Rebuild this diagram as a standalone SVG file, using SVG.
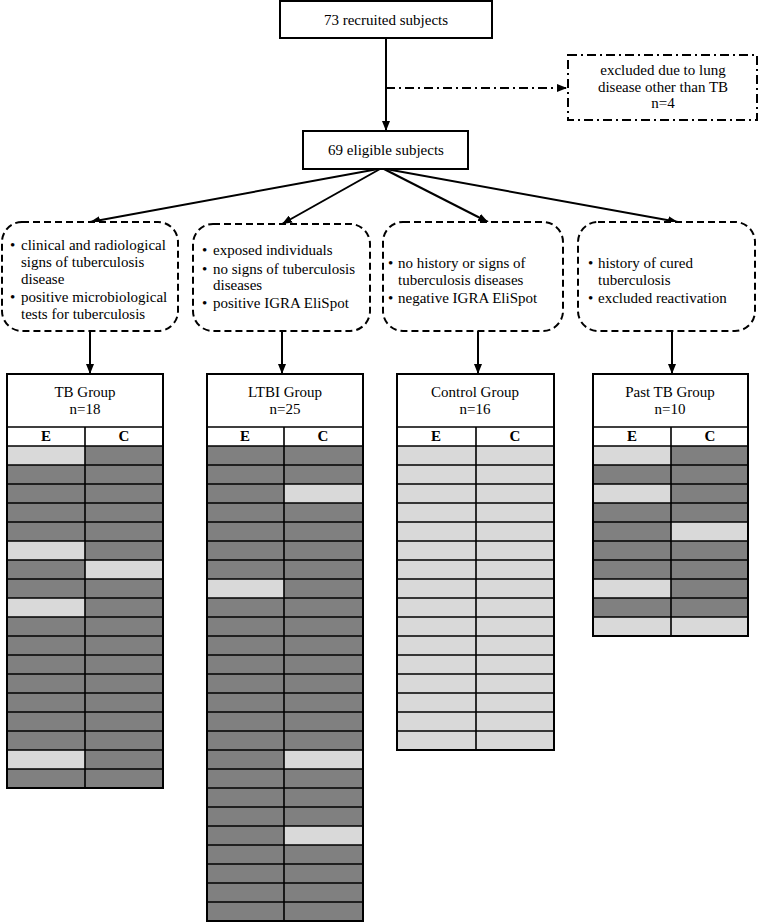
<svg xmlns="http://www.w3.org/2000/svg" width="759" height="923" viewBox="0 0 759 923">
<style>
.t{font-family:"Liberation Serif","Times New Roman",serif;font-size:15px;fill:#000}
.m{text-anchor:middle}
.b{font-weight:bold}
.box{fill:#fff;stroke:#000;stroke-width:2}
.dash{fill:#fff;stroke:#000;stroke-width:2;stroke-dasharray:7 4}
.dd{fill:#fff;stroke:#000;stroke-width:2;stroke-dasharray:9 4 2 4}
.dk{fill:#808080}
.lt{fill:#d9d9d9}
.grid{stroke:#000;stroke-width:1.6;fill:none}
.outer{stroke:#000;stroke-width:2;fill:none}
.conn{stroke:#000;stroke-width:2;fill:none}
</style>
<defs>
<marker id="ah" markerUnits="userSpaceOnUse" markerWidth="10" markerHeight="8" refX="10" refY="4" orient="auto">
<path d="M0,0 L10,4 L0,8 z" fill="#000"/>
</marker>
</defs>
<g id="connectors">
<path class="conn" d="M386 38 V131" marker-end="url(#ah)"/>
<path class="conn" d="M386 88 H567" stroke-dasharray="9 4 2 4" marker-end="url(#ah)"/>
<path class="conn" d="M378 169 L90 222" marker-end="url(#ah)"/>
<path class="conn" d="M380 169 L282 224" marker-end="url(#ah)"/>
<path class="conn" d="M384 169 L488 222" marker-end="url(#ah)"/>
<path class="conn" d="M386 169 L678 222" marker-end="url(#ah)"/>
<path class="conn" d="M90 331 V374" marker-end="url(#ah)"/>
<path class="conn" d="M282 331 V374" marker-end="url(#ah)"/>
<path class="conn" d="M478 331 V374" marker-end="url(#ah)"/>
<path class="conn" d="M672 331 V374" marker-end="url(#ah)"/>
</g>
<g id="recruited">
<rect class="box" x="280" y="1" width="212" height="37"/>
<text class="t m" x="386" y="25">73 recruited subjects</text>
</g>
<g id="excluded">
<rect class="dd" x="568" y="55" width="189" height="65"/>
<text class="t m" x="663" y="75">excluded due to lung</text>
<text class="t m" x="663" y="92">disease other than TB</text>
<text class="t m" x="663" y="108">n=4</text>
</g>
<g id="eligible">
<rect class="box" x="303" y="131" width="165" height="38"/>
<text class="t m" x="386" y="155">69 eligible subjects</text>
</g>
<g id="crit-tb">
<rect class="dash" x="2" y="222" width="176" height="109" rx="20"/>
<text class="t" x="10" y="250">•</text><text class="t" x="21" y="250">clinical and radiological</text>
<text class="t" x="21" y="267">signs of tuberculosis</text>
<text class="t" x="21" y="284">disease</text>
<text class="t" x="10" y="302">•</text><text class="t" x="21" y="302">positive microbiological</text>
<text class="t" x="21" y="319">tests for tuberculosis</text>
</g>
<g id="crit-ltbi">
<rect class="dash" x="193" y="224" width="177" height="107" rx="20"/>
<text class="t" x="202" y="255">•</text><text class="t" x="213" y="255">exposed individuals</text>
<text class="t" x="202" y="274">•</text><text class="t" x="213" y="274">no signs of tuberculosis</text>
<text class="t" x="213" y="290">diseases</text>
<text class="t" x="202" y="308">•</text><text class="t" x="213" y="308">positive IGRA EliSpot</text>
</g>
<g id="crit-control">
<rect class="dash" x="383" y="222" width="180" height="109" rx="20"/>
<text class="t" x="388" y="268">•</text><text class="t" x="398" y="268">no history or signs of</text>
<text class="t" x="398" y="285">tuberculosis diseases</text>
<text class="t" x="388" y="303">•</text><text class="t" x="398" y="303">negative IGRA EliSpot</text>
</g>
<g id="crit-past">
<rect class="dash" x="578" y="222" width="177" height="109" rx="20"/>
<text class="t" x="588" y="268">•</text><text class="t" x="598" y="268">history of cured</text>
<text class="t" x="598" y="285">tuberculosis</text>
<text class="t" x="588" y="303">•</text><text class="t" x="598" y="303">excluded reactivation</text>
</g>
<g id="tb-group">
<rect x="7" y="374" width="156" height="72" fill="#fff"/>
<rect class="dk" x="7" y="446" width="156" height="342"/>
<rect class="lt" x="7" y="446" width="78" height="19"/>
<rect class="lt" x="7" y="541" width="78" height="19"/>
<rect class="lt" x="85" y="560" width="78" height="19"/>
<rect class="lt" x="7" y="598" width="78" height="19"/>
<rect class="lt" x="7" y="750" width="78" height="19"/>
<path class="grid" d="M7 427H163M7 446H163M7 465H163M7 484H163M7 503H163M7 522H163M7 541H163M7 560H163M7 579H163M7 598H163M7 617H163M7 636H163M7 655H163M7 674H163M7 693H163M7 712H163M7 731H163M7 750H163M7 769H163M85 427V788"/>
<rect class="outer" x="7" y="374" width="156" height="414"/>
<text class="t m" x="85" y="397">TB Group</text>
<text class="t m" x="85" y="414">n=18</text>
<text class="t m b" x="46" y="441">E</text>
<text class="t m b" x="124" y="441">C</text>
</g>
<g id="ltbi-group">
<rect x="207" y="374" width="156" height="72" fill="#fff"/>
<rect class="dk" x="207" y="446" width="156" height="475"/>
<rect class="lt" x="284" y="484" width="79" height="19"/>
<rect class="lt" x="207" y="579" width="77" height="19"/>
<rect class="lt" x="284" y="750" width="79" height="19"/>
<rect class="lt" x="284" y="826" width="79" height="19"/>
<path class="grid" d="M207 427H363M207 446H363M207 465H363M207 484H363M207 503H363M207 522H363M207 541H363M207 560H363M207 579H363M207 598H363M207 617H363M207 636H363M207 655H363M207 674H363M207 693H363M207 712H363M207 731H363M207 750H363M207 769H363M207 788H363M207 807H363M207 826H363M207 845H363M207 864H363M207 883H363M207 902H363M284 427V921"/>
<rect class="outer" x="207" y="374" width="156" height="547"/>
<text class="t m" x="285" y="397">LTBI Group</text>
<text class="t m" x="285" y="414">n=25</text>
<text class="t m b" x="245" y="441">E</text>
<text class="t m b" x="323" y="441">C</text>
</g>
<g id="control-group">
<rect x="397" y="374" width="157" height="72" fill="#fff"/>
<rect class="lt" x="397" y="446" width="157" height="304"/>
<path class="grid" d="M397 427H554M397 446H554M397 465H554M397 484H554M397 503H554M397 522H554M397 541H554M397 560H554M397 579H554M397 598H554M397 617H554M397 636H554M397 655H554M397 674H554M397 693H554M397 712H554M397 731H554M476 427V750"/>
<rect class="outer" x="397" y="374" width="157" height="376"/>
<text class="t m" x="475" y="397">Control Group</text>
<text class="t m" x="475" y="414">n=16</text>
<text class="t m b" x="436" y="441">E</text>
<text class="t m b" x="515" y="441">C</text>
</g>
<g id="past-tb-group">
<rect x="593" y="374" width="155" height="72" fill="#fff"/>
<rect class="dk" x="593" y="446" width="155" height="190"/>
<rect class="lt" x="593" y="446" width="78" height="19"/>
<rect class="lt" x="593" y="484" width="78" height="19"/>
<rect class="lt" x="671" y="522" width="77" height="19"/>
<rect class="lt" x="593" y="579" width="78" height="19"/>
<rect class="lt" x="593" y="617" width="155" height="19"/>
<path class="grid" d="M593 427H748M593 446H748M593 465H748M593 484H748M593 503H748M593 522H748M593 541H748M593 560H748M593 579H748M593 598H748M593 617H748M671 427V636"/>
<rect class="outer" x="593" y="374" width="155" height="262"/>
<text class="t m" x="670" y="397">Past TB Group</text>
<text class="t m" x="670" y="414">n=10</text>
<text class="t m b" x="632" y="441">E</text>
<text class="t m b" x="710" y="441">C</text>
</g>
</svg>
